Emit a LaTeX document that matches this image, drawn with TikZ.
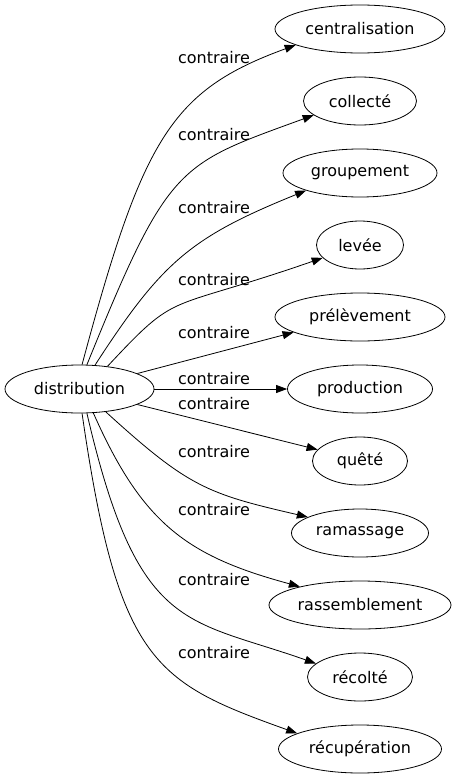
\documentclass[tikz,border=0pt]{standalone}
\usepackage{fontspec}
\setmainfont{DejaVu Sans}
\usetikzlibrary{arrows.meta,shapes.geometric}
\tikzset{
  mot/.style={draw, ellipse, inner sep=0pt, minimum height=48pt, line width=0.8pt,
    font=\fontsize{16}{19}\selectfont},
  rel/.style={inner sep=0pt, font=\fontsize{16}{19}\selectfont},
  lien/.style={-{Triangle[length=11pt, width=8pt]}, line width=0.8pt},
}

\begin{document}
\begin{tikzpicture}[x=1pt, y=-1pt]
\useasboundingbox (0,0) rectangle (457,779);

% Source word
\node[mot, minimum width=149pt] (dist) at (79.5,389) {distribution};

% Target words, one per row
\foreach \txt/\w [count=\i] in {centralisation/170, collecté/113, groupement/154,
    levée/87, prélèvement/170, production/145, quêté/95, ramassage/137,
    rassemblement/182, récolté/105, récupération/163} {
  \node[mot, minimum width=\w pt] (t\i) at (360,{29+72*(\i-1)}) {\txt};
}

% Edge labels
\foreach \y [count=\i] in {58,135,208,280,333,379,404,452,510,580,653} {
  \node[rel] (l\i) at (214,\y) {contraire};
}

% Curved edges
\foreach \i/\s/\ax/\ay/\bx/\by/\e in {
    1/84/142.8/138.2/171/90.5/194,
    2/73/168.7/163.1/177.5/164.8/197,
    3/57/161.6/262.5/189.7/237.6/198,
    4/39/179.8/288.9/162.2/313.4/199,
    8/319/188.7/487.4/207/493.7/163,
    9/300/142.3/523.7/186.9/556.1/163,
    10/287/137.9/633.4/186.4/617.8/163,
    11/276/118.2/663.4/155.2/682.4/166} {
  \draw[lien] (dist.\s) .. controls (\ax,\ay) and (\bx,\by) .. (t\i.\e);
}

% Straight edges
\draw[lien] (dist.15) -- (t5.193);
\draw[lien] (dist.0) -- (t6.180);
\draw[lien] (dist.345) -- (t7.165);

\end{tikzpicture}
\end{document}
